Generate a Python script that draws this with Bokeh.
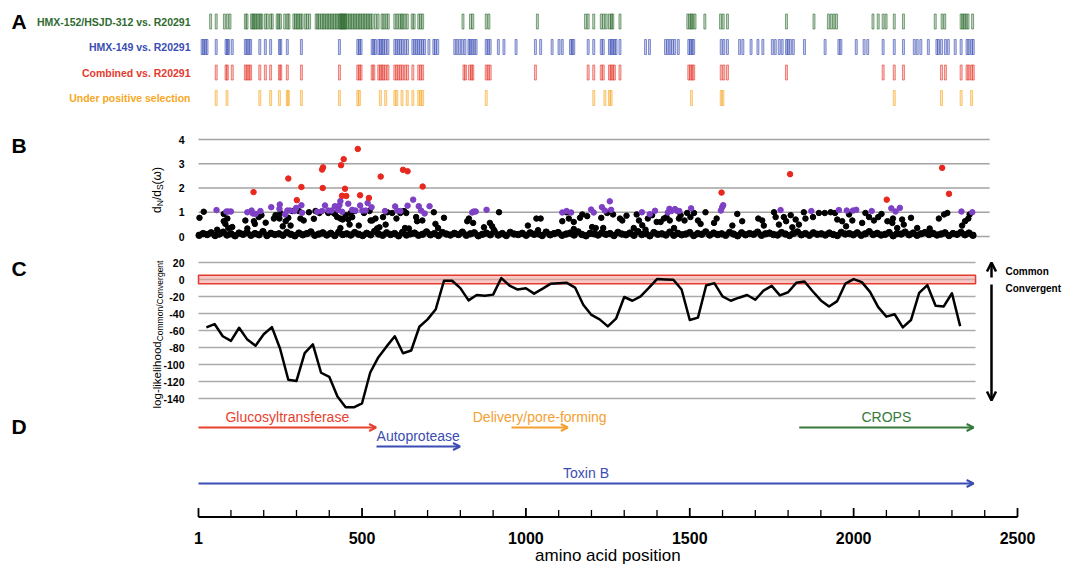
import numpy as np
from bokeh.plotting import figure
from bokeh.models import Range1d, Arrow, OpenHead
from bokeh.core.properties import value
from bokeh.embed import file_html
from bokeh.resources import INLINE

FONT = value("Liberation Sans")

# ---------------- data ----------------
# Panel A: variable sites along the protein (amino acid positions)
a_row_labels = ["HMX-152/HSJD-312 vs. R20291", "HMX-149 vs. R20291",
                "Combined vs. R20291", "Under positive selection"]
a_label_colors = ["#2f6b31", "#3b4db3", "#e53a2f", "#f7a823"]
a_tick_colors = ["#2f6b31", "#3b4db3", "#e53a2f", "#f7a823"]

green_pos = [38, 55, 80, 89, 97, 144, 149, 163, 167, 171, 175, 180, 185, 190, 194, 205, 211,
             221, 226, 241, 246, 251, 264, 272, 277, 292, 297, 302, 307, 312, 317, 327, 333,
             340, 360, 365, 370, 376, 381, 386, 391, 396, 401, 406, 411, 416, 421, 426, 431,
             434, 436, 439, 441, 444, 446, 449, 451, 456, 461, 466, 471, 476, 481, 486, 491,
             496, 501, 506, 511, 516, 521, 526, 531, 541, 549, 561, 567, 574, 580, 600, 607,
             614, 620, 624, 631, 638, 653, 659, 673, 679, 685, 808, 831, 838, 879, 887, 1035,
             1182, 1190, 1207, 1230, 1237, 1245, 1255, 1261, 1265, 1287, 1494, 1500, 1505,
             1509, 1516, 1546, 1594, 1602, 1615, 1795, 1879, 1923, 1932, 1940, 1948, 2059,
             2075, 2090, 2099, 2124, 2152, 2249, 2270, 2278, 2328, 2333, 2338, 2343, 2349, 2363]
blue_pos = [12, 17, 22, 27, 55, 85, 89, 93, 104, 144, 149, 155, 160, 188, 205, 221, 248, 252,
            272, 315, 431, 487, 492, 497, 531, 536, 541, 551, 556, 561, 566, 572, 579, 600, 606,
            612, 618, 624, 632, 639, 655, 661, 667, 673, 679, 685, 691, 704, 719, 724, 731, 783,
            790, 798, 806, 814, 826, 830, 836, 842, 848, 879, 885, 891, 916, 933, 970, 1029,
            1045, 1080, 1101, 1111, 1136, 1141, 1146, 1190, 1207, 1230, 1236, 1255, 1260, 1265,
            1270, 1275, 1287, 1365, 1377, 1426, 1433, 1440, 1447, 1454, 1465, 1497, 1502, 1507,
            1512, 1596, 1604, 1615, 1652, 1662, 1687, 1708, 1723, 1752, 1761, 1773, 1782, 1795,
            1800, 1807, 1816, 1850, 1913, 1955, 1961, 2008, 2032, 2043, 2090, 2124, 2152, 2185,
            2194, 2205, 2228, 2254, 2259, 2268, 2280, 2289, 2310, 2328, 2346, 2352, 2360, 2365]
red_pos = [55, 85, 89, 104, 144, 149, 155, 160, 188, 205, 221, 248, 252, 272, 315, 431, 487,
           492, 497, 531, 536, 551, 556, 561, 566, 572, 579, 600, 606, 612, 618, 624, 632, 639,
           655, 673, 679, 685, 811, 816, 828, 834, 838, 879, 885, 891, 1029, 1190, 1207, 1230,
           1236, 1255, 1260, 1265, 1270, 1287, 1497, 1502, 1507, 1512, 1596, 1604, 1615, 1795,
           2090, 2124, 2152, 2268, 2280, 2328, 2346, 2352, 2360, 2365]
orange_pos = [55, 88, 188, 221, 248, 272, 275, 315, 431, 487, 492, 556, 572, 600, 606, 622, 638,
              655, 673, 679, 685, 879, 1207, 1241, 1255, 1260, 1505, 1596, 1601, 2124, 2268,
              2328, 2360]

# Panel B: dN/dS per codon
b_ticks = [0, 1, 2, 3, 4]
band_vals = [
    0.05, 0.12, 0.08, 0.15, 0.04, 0.10, 0.18, 0.06, 0.11, 0.03, 0.14, 0.09, 0.16, 0.05, 0.12, 0.07, 0.20, 0.04, 0.13, 0.08,
    0.11, 0.05, 0.17, 0.09, 0.03, 0.14, 0.07, 0.12, 0.19, 0.05, 0.10, 0.15, 0.06, 0.13, 0.04, 0.18, 0.08, 0.11, 0.06, 0.16,
    0.09, 0.04, 0.13, 0.07, 0.21, 0.10, 0.05, 0.15, 0.08, 0.12, 0.03, 0.17, 0.06, 0.11, 0.14, 0.05, 0.09, 0.19, 0.07, 0.12,
    0.04, 0.16, 0.10, 0.06, 0.13, 0.08, 0.18, 0.05, 0.11, 0.15, 0.03, 0.09, 0.14, 0.07, 0.20, 0.06, 0.12, 0.04, 0.17, 0.10,
    0.08, 0.13, 0.05, 0.15, 0.09, 0.11, 0.04, 0.18, 0.07, 0.12, 0.16, 0.05, 0.10, 0.14, 0.06, 0.19, 0.08, 0.03, 0.13, 0.11,
    0.06, 0.15, 0.09, 0.12, 0.04, 0.17, 0.10, 0.07, 0.14, 0.05, 0.20, 0.08, 0.12, 0.03, 0.16, 0.09, 0.11, 0.06, 0.18, 0.05,
    0.13, 0.07, 0.10, 0.16, 0.04, 0.12, 0.09, 0.19, 0.06, 0.14, 0.08, 0.11, 0.05, 0.17, 0.10, 0.03, 0.15, 0.07, 0.12, 0.09,
    0.18, 0.05, 0.11, 0.14, 0.08, 0.06, 0.16, 0.10, 0.04, 0.13, 0.19, 0.07, 0.12, 0.05, 0.15, 0.09, 0.11, 0.06, 0.14, 0.08,
    0.04, 0.17, 0.10, 0.12, 0.07, 0.15, 0.05, 0.11, 0.20, 0.08, 0.13, 0.06, 0.09, 0.16, 0.03, 0.12, 0.10, 0.18, 0.07, 0.14,
    0.05, 0.11, 0.16, 0.08, 0.13, 0.06, 0.10, 0.15, 0.04, 0.12, 0.09, 0.17, 0.07, 0.14, 0.05]
band_pos = np.linspace(3, 2364, len(band_vals))

black_x = [4, 17, 58, 78, 78, 83, 89, 92, 104, 144, 150, 170, 173, 185, 193, 206, 231, 236, 248, 251,
           258, 267, 275, 282, 287, 307, 312, 322, 338, 353, 358, 370, 397, 409, 417, 424, 434, 434, 441, 450,
           458, 462, 465, 470, 478, 490, 506, 523, 526, 531, 541, 546, 553, 564, 572, 577, 592, 605, 617, 628,
           631, 635, 643, 665, 668, 684, 719, 724, 732, 750,
           821, 826, 839, 890, 897, 902, 872, 918, 1006, 1032, 1045, 1037, 1111, 1124, 1131, 1146, 1146, 1165, 1172, 1187,
           1202, 1213, 1230, 1236, 1248, 1266, 1287, 1294, 1307, 1329, 1338, 1345, 1355, 1365, 1372, 1385, 1399, 1411, 1421, 1429,
           1439, 1452, 1467, 1472, 1484, 1492, 1502, 1513, 1525, 1533, 1548, 1574, 1582,
           1645, 1630, 1660, 1709, 1721, 1726, 1757, 1762, 1772, 1787, 1794, 1808, 1813, 1823, 1833, 1853, 1848, 1876, 1894, 1912,
           1930, 1943, 1950, 1965, 1977, 1986, 1996, 2026, 2036, 2047, 2062, 2075, 2085, 2103, 2120, 2118, 2133, 2148, 2153, 2175,
           2194, 2232, 2260, 2276, 2286, 2331, 2340, 2350, 2354]
black_y = [0.77, 1.02, 0.28, 0.93, 0.63, 0.52, 0.74, 0.35, 0.39, 0.66, 0.33, 0.63, 0.52, 0.80, 0.88, 0.57, 0.74, 0.88, 0.74, 0.97,
           0.42, 0.63, 0.77, 0.45, 1.05, 1.05, 0.74, 0.66, 1.00, 0.73, 1.05, 0.97, 0.97, 1.00, 0.93, 0.80, 0.74, 0.35, 0.70, 0.88,
           0.70, 0.49, 0.97, 0.80, 1.05, 0.45, 0.97, 1.05, 0.66, 0.66, 0.74, 0.33, 0.38, 0.80, 0.49, 1.00, 0.97, 0.74, 0.97, 1.05,
           0.35, 0.97, 0.33, 0.80, 0.63, 0.66, 1.00, 0.52, 0.35, 0.77,
           0.63, 0.74, 0.56, 0.56, 0.42, 0.28, 0.38, 1.00, 0.45, 0.74, 0.74, 0.26, 0.63, 1.00, 0.74, 0.60, 0.31, 0.77, 0.91, 0.84,
           0.39, 0.35, 0.77, 0.35, 0.97, 0.91, 0.74, 0.66, 0.86, 0.35, 0.91, 0.66, 0.46, 0.28, 0.74, 0.88, 0.60, 0.60, 0.74, 0.80,
           0.66, 0.35, 0.74, 0.88, 0.66, 0.97, 0.80, 0.97, 0.66, 0.52, 1.00, 0.56, 0.74,
           0.93, 0.45, 0.63, 0.74, 0.66, 0.45, 1.00, 0.80, 0.49, 0.80, 0.63, 0.88, 0.38, 0.70, 0.49, 0.74, 1.00, 0.80, 0.97, 0.97,
           1.00, 0.97, 0.70, 0.63, 0.42, 0.91, 0.66, 0.56, 0.97, 0.80, 0.66, 0.80, 0.93, 0.63, 0.74, 0.56, 0.35, 0.70, 0.49, 0.77,
           0.35, 0.33, 0.74, 0.91, 0.97, 0.45, 0.63, 0.74, 0.91]
purple_x = [56, 86, 92, 100, 150, 163, 167, 175, 190, 223, 249, 248, 265, 272, 280, 294, 299, 315, 317, 363,
            378, 387, 397, 407, 417, 427, 434, 431, 439, 458, 470, 480, 494, 501, 511, 517, 529, 570, 601, 607,
            617, 639, 656, 673, 680, 691, 706,
            836, 841, 847, 880, 1111, 1124, 1138, 1199, 1207, 1232, 1241, 1256, 1260, 1354, 1378, 1394, 1433, 1438, 1444, 1455,
            1462, 1468, 1504, 1599, 1595, 1602,
            1777, 1871, 1955, 1979, 1998, 2008, 2055, 2115, 2128, 2141, 2329, 2362]
purple_y = [1.09, 1.03, 1.03, 1.03, 1.00, 1.07, 0.95, 0.93, 1.05, 1.21, 1.32, 1.14, 0.91, 1.07, 1.07, 1.05, 1.18, 1.29, 0.98, 1.02,
            1.05, 1.28, 1.07, 1.07, 1.25, 1.10, 1.46, 1.29, 1.02, 1.35, 1.10, 1.07, 1.28, 1.07, 1.07, 1.38, 1.21, 1.05, 1.24, 1.07,
            1.05, 1.27, 1.52, 1.25, 1.07, 0.95, 1.25,
            0.99, 1.03, 1.03, 1.10, 0.99, 1.05, 0.99, 1.11, 0.99, 1.21, 1.07, 1.45, 1.10, 1.00, 0.92, 1.06, 0.99, 1.14, 1.05, 1.13,
            1.05, 1.05, 1.16, 1.21, 1.07, 1.29,
            1.09, 1.05, 1.09, 1.07, 1.07, 1.10, 1.05, 1.16, 1.03, 1.18, 1.03, 1.00]
red_x = [169, 275, 301, 315, 378, 381, 380, 436, 444, 448, 439, 452, 487, 494, 521, 557, 625, 639, 685,
         1597, 1806, 2101, 2270, 2291]
red_y = [1.83, 2.39, 1.50, 2.04, 2.76, 2.85, 2.00, 2.94, 3.19, 1.97, 1.68, 1.67, 3.61, 1.70, 1.59, 2.47, 2.75, 2.69, 2.06,
         1.81, 2.57, 1.52, 2.83, 1.76]
b_grid_end = 2415

# Panel C: sliding-window log-likelihood
c_ticks = [20, 0, -20, -40, -60, -80, -100, -120, -140]
c_positions = list(range(25, 2326, 25))
c_values = [-56.4, -52.4, -66.8, -72.3, -56.8, -70.7, -77.9, -64.4, -56.0, -81.5,
            -118.0, -119.3, -86.7, -76.3, -109.7, -114.5, -137.6, -150.3, -150.3, -145.6,
            -109.4, -91.4, -78.7, -66.8, -86.7, -83.5, -55.6, -46.9, -34.9, -1.5,
            -1.5, -10.2, -24.6, -18.2, -19.0, -17.8, 1.7, -7.1, -11.8, -10.2,
            -16.6, -11.0, -5.1, -4.4, -3.9, -9.5, -29.8, -41.7, -46.9, -55.2,
            -46.1, -20.6, -25.0, -19.8, -9.9, 0.5, 0.1, -0.3, -11.8, -47.7,
            -44.9, -7.1, -4.3, -19.8, -25.0, -21.4, -18.2, -23.8, -13.0, -7.5,
            -18.6, -15.0, -3.9, -2.3, -13.8, -24.6, -31.7, -25.4, -4.8, 0.5,
            -3.1, -14.6, -32.5, -43.7, -40.9, -56.4, -47.7, -15.8, -6.7, -30.9,
            -31.7, -16.2, -54.8]
c_band = (-5, 5)
c_grid_end = 2372

# Panel D: domains
domain_names = ["Glucosyltransferase", "Autoprotease", "Delivery/pore-forming", "CROPS", "Toxin B"]
domain_start = [1, 544, 956, 1834, 1]
domain_end = [543, 799, 1128, 2366, 2366]
domain_colors = ["#e8412f", "#3b4db3", "#f5a030", "#357a38", "#3b4db3"]
domain_row_px = [427, 446, 427, 427, 483]

x_ticks = [1, 500, 1000, 1500, 2000, 2500]
x_minor = [100, 200, 300, 400, 600, 700, 800, 900, 1100, 1200, 1300, 1400, 1600, 1700, 1800,
           1900, 2100, 2200, 2300, 2400]

# ---------------- layout ----------------
W, H = 1083, 565
PX_AA1, PX_AA2500 = 198.0, 1017.0
s = (PX_AA2500 - PX_AA1) / (2500 - 1)
x_lo = 1 - PX_AA1 / s
x_hi = 1 + (W - PX_AA1) / s
B0, B4 = 236.0, 139.0
sb = (B0 - B4) / 4.0
C20, C140 = 262.0, 398.0
sc = (C140 - C20) / 160.0
C0 = C20 + 20 * sc

p = figure(width=W, height=H, x_range=Range1d(x_lo, x_hi), y_range=Range1d(H, 0),
           x_axis_type=None, y_axis_type=None, toolbar_location=None,
           output_backend="svg", min_border=0, outline_line_color=None)
p.min_border_left = p.min_border_right = p.min_border_top = p.min_border_bottom = 0
p.background_fill_color = "white"
p.border_fill_color = "white"
p.extra_x_ranges = {"px": Range1d(0, W)}
p.extra_y_ranges = {"B": Range1d((B0 - H) / sb, B0 / sb),
                    "C": Range1d((C0 - H) / sc, C0 / sc)}

# panel letters
p.text(x=[11, 11, 11, 11], y=[21, 145, 268, 426], text=["A", "B", "C", "D"], x_range_name="px",
       text_font=FONT, text_font_size="21px", text_font_style="bold", text_color="black",
       text_baseline="middle", text_align="left")

# ---- Panel A ----
row_y = [21, 46.5, 72, 97.5]
for pos, yc, col in zip([green_pos, blue_pos, red_pos, orange_pos], row_y, a_tick_colors):
    pos = np.array(pos, dtype=float)
    p.quad(left=pos - 3, right=pos + 3, top=yc - 7.5, bottom=yc + 7.5,
           fill_color=col, fill_alpha=0.28, line_color=col, line_alpha=0.75, line_width=0.8)
p.text(x=[190] * 4, y=row_y, text=a_row_labels, x_range_name="px", text_align="right",
       text_baseline="middle", text_font=FONT, text_font_size="10.5px", text_font_style="bold",
       text_color=a_label_colors)

# ---- Panel B ----
p.segment(x0=[1] * 5, y0=b_ticks, x1=[b_grid_end] * 5, y1=b_ticks, y_range_name="B",
          line_color="#a3a3a3", line_width=1.5)
p.text(x=[184] * 5, y=b_ticks, text=[str(t) for t in b_ticks], x_range_name="px", y_range_name="B",
       text_align="right", text_baseline="middle", text_font=FONT, text_font_size="10.5px",
       text_font_style="bold", text_color="black")
p.scatter(band_pos, band_vals, y_range_name="B", size=6.5, color="black")
p.scatter(black_x, black_y, y_range_name="B", size=5.5, color="black")
p.scatter(purple_x, purple_y, y_range_name="B", size=5.5, color="#7e40c4")
p.scatter(red_x, red_y, y_range_name="B", size=5.5, color="#e8281f")

EM = {'d': 0.556, 'N': 0.722, '/': 0.278, 'S': 0.667, '(': 0.333, ')': 0.333, 'ω': 0.69,
      'l': 0.222, 'o': 0.556, 'g': 0.556, '-': 0.333, 'i': 0.222, 'k': 0.5, 'e': 0.556,
      'h': 0.556, 'C': 0.722, 'm': 0.833, 'n': 0.556, 'v': 0.5, 'r': 0.333, 't': 0.278}


def tw(txt, size):
    return sum(EM.get(ch, 0.55) for ch in txt) * size


def rotated_label(pieces, x_main, x_sub, y_center):
    total = sum(tw(t, sz) for t, sz, _ in pieces)
    y = y_center + total / 2
    for t, sz, sub in pieces:
        p.text(x=[x_sub if sub else x_main], y=[y], text=[t], angle=np.pi / 2, x_range_name="px",
               text_align="left", text_baseline="alphabetic", text_font=FONT,
               text_font_size=f"{sz}px", text_color="black")
        y -= tw(t, sz)


rotated_label([("d", 12, False), ("N", 8.5, True), ("/", 12, False), ("d", 12, False),
               ("S", 8.5, True), ("(ω)", 12, False)], 156, 159, 190)

# ---- Panel C ----
p.segment(x0=[1] * len(c_ticks), y0=c_ticks, x1=[c_grid_end] * len(c_ticks), y1=c_ticks,
          y_range_name="C", line_color="#ababab", line_width=1.5)
p.quad(left=[1], right=[c_grid_end], bottom=[c_band[0]], top=[c_band[1]], y_range_name="C",
       fill_color="#f29a94", fill_alpha=0.55, line_color="#e53a2f", line_width=1.5)
p.line(c_positions, c_values, y_range_name="C", line_color="black", line_width=2.5,
       line_join="round")
p.text(x=[184] * len(c_ticks), y=c_ticks, text=[str(t) for t in c_ticks], x_range_name="px",
       y_range_name="C", text_align="right", text_baseline="middle", text_font=FONT,
       text_font_size="10.5px", text_font_style="bold", text_color="black")
rotated_label([("log-likelihood", 11.5, False), ("Common/Convergent", 8.5, True)], 156, 159, 334)

p.add_layout(Arrow(x_start=991, y_start=277, x_end=991, y_end=262, x_range_name="px",
                   line_width=2.5, line_color="black",
                   end=OpenHead(size=9, line_width=2.5, line_color="black")))
p.add_layout(Arrow(x_start=991, y_start=284, x_end=991, y_end=400, x_range_name="px",
                   line_width=2.5, line_color="black",
                   end=OpenHead(size=9, line_width=2.5, line_color="black")))
p.text(x=[1005, 1005], y=[271, 288], text=["Common", "Convergent"], x_range_name="px",
       text_align="left", text_baseline="middle", text_font=FONT, text_font_size="10px",
       text_font_style="bold", text_color="black")

# ---- Panel D ----
for st, en, col, yy in zip(domain_start, domain_end, domain_colors, domain_row_px):
    p.add_layout(Arrow(x_start=st, y_start=yy, x_end=en, y_end=yy, line_width=2, line_color=col,
                       end=OpenHead(size=7, line_width=2, line_color=col)))
mids = [(a + b) / 2 for a, b in zip(domain_start, domain_end)]
p.text(x=mids, y=[yy - 11 for yy in domain_row_px], text=domain_names, text_align="center",
       text_baseline="middle", text_font=FONT, text_font_size="14px", text_color=domain_colors)

# ---- bottom axis ----
AX = 516.5
p.segment(x0=[1], y0=[AX], x1=[2500], y1=[AX], line_color="black", line_width=2.2)
p.segment(x0=x_ticks, y0=[AX] * len(x_ticks), x1=x_ticks, y1=[AX - 9] * len(x_ticks),
          line_color="black", line_width=1.8)
p.segment(x0=x_minor, y0=[AX] * len(x_minor), x1=x_minor, y1=[AX - 7] * len(x_minor),
          line_color="black", line_width=1.3)
p.text(x=x_ticks, y=[537] * len(x_ticks), text=[str(t) for t in x_ticks], text_align="center",
       text_baseline="middle", text_font=FONT, text_font_size="16px", text_font_style="bold",
       text_color="black")
p.text(x=[1250], y=[555], text=["amino acid position"], text_align="center", text_baseline="middle",
       text_font=FONT, text_font_size="17px", text_color="black")

open("out.html", "w").write(file_html(p, INLINE))
